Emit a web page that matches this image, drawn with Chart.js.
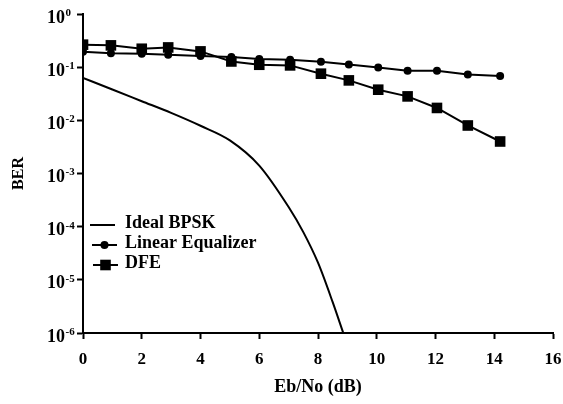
<!DOCTYPE html>
<html>
<head>
<meta charset="utf-8">
<script src="https://cdn.jsdelivr.net/npm/chart.js@4.4.1/dist/chart.umd.min.js"></script>
<style>
    body { margin: 0; background: #fff; }
    #wrap { width: 563px; height: 404px; position: relative; }
</style>
</head>
<body>
<div id="wrap"><canvas id="berChart"></canvas></div>
<script>
// Eb/No points for the simulated equalizers
const snrDb = [0, 0.95, 2, 2.9, 4, 5.05, 6, 7.05, 8.1, 9.05, 10.05, 11.05, 12.05, 13.1, 14.2];
const linearBer = [0.195, 0.182, 0.178, 0.172, 0.162, 0.155, 0.143, 0.138, 0.127, 0.112, 0.099, 0.086, 0.086, 0.073, 0.068];
const dfeBer = [0.265, 0.257, 0.222, 0.235, 0.198, 0.128, 0.111, 0.108, 0.0754, 0.0564, 0.0377, 0.0282, 0.0171, 0.0080, 0.0040];

// theoretical curve
const bpskSnr = [0, 1, 2, 3, 4, 5, 6, 7, 7.5, 8, 8.5, 8.86];
const bpskBer = [0.063, 0.038, 0.0229, 0.0138, 0.0079, 0.0042, 0.00141, 2.34e-4, 7.9e-5, 2.1e-5, 3.8e-6, 1e-6];

const xTicks = [0, 2, 4, 6, 8, 10, 12, 14, 16];
const yTicks = [1e-6, 1e-5, 1e-4, 1e-3, 1e-2, 1e-1, 1];

const seriesNames = ['Ideal BPSK', 'Linear Equalizer', 'DFE'];

const FONT = "'Liberation Serif', 'Times New Roman', serif";

function toPoints(xs, ys) {
    return xs.map((x, i) => ({ x: x, y: ys[i] }));
}

// y labels drawn as 10 with a raised exponent
const powerLabels = {
    id: 'powerLabels',
    afterDraw(chart) {
        const ctx = chart.ctx;
        const yScale = chart.scales.y;
        ctx.save();
        ctx.fillStyle = '#000';
        yScale.ticks.forEach(t => {
            const y = yScale.getPixelForValue(t.value);
            const exp = Math.round(Math.log10(t.value));
            ctx.font = 'bold 18px ' + FONT;
            ctx.textAlign = 'right';
            ctx.textBaseline = 'middle';
            ctx.fillText('10', 65, y + 4);
            ctx.font = 'bold 11px ' + FONT;
            ctx.textAlign = 'left';
            ctx.fillText(String(exp), 65.5, y - 1);
        });
        ctx.restore();
    }
};

// legend placed inside the plot, lower left
const innerLegend = {
    id: 'innerLegend',
    afterDraw(chart) {
        const ctx = chart.ctx;
        const area = chart.chartArea;
        const shifts = [7, 9, 10];
        ctx.save();
        chart.data.datasets.forEach((ds, i) => {
            const y = area.top + 211 + i * 20;
            const x0 = area.left + shifts[i];
            const x1 = x0 + 25;
            ctx.strokeStyle = '#000';
            ctx.lineWidth = 2;
            ctx.beginPath();
            ctx.moveTo(x0, y);
            ctx.lineTo(x1, y);
            ctx.stroke();
            if (ds.pointRadius > 0) {
                ctx.fillStyle = '#000';
                Chart.helpers.drawPoint(ctx, {
                    pointStyle: ds.pointStyle,
                    radius: ds.pointRadius,
                    rotation: 0,
                    borderWidth: 0
                }, (x0 + x1) / 2, y);
            }
            ctx.fillStyle = '#000';
            ctx.font = 'bold 18px ' + FONT;
            ctx.textAlign = 'left';
            ctx.textBaseline = 'middle';
            ctx.fillText(ds.label, area.left + 42, y - 2);
        });
        ctx.restore();
    }
};

const ctx = document.getElementById('berChart').getContext('2d');
new Chart(ctx, {
    type: 'line',
    data: {
        datasets: [{
            label: seriesNames[0],
            data: toPoints(bpskSnr, bpskBer),
            borderColor: '#000',
            borderWidth: 2,
            pointRadius: 0,
            cubicInterpolationMode: 'monotone',
            order: 2
        }, {
            label: seriesNames[1],
            data: toPoints(snrDb, linearBer),
            borderColor: '#000',
            backgroundColor: '#000',
            borderWidth: 2,
            pointStyle: 'circle',
            pointRadius: 4,
            pointBorderWidth: 0,
            order: 1
        }, {
            label: seriesNames[2],
            data: toPoints(snrDb, dfeBer),
            borderColor: '#000',
            backgroundColor: '#000',
            borderWidth: 2,
            pointStyle: 'rect',
            pointRadius: 7.5,
            pointBorderWidth: 0,
            order: 0
        }]
    },
    options: {
        responsive: true,
        maintainAspectRatio: false,
        animation: false,
        layout: { padding: { top: 14, right: 10, left: 0, bottom: 0 } },
        plugins: {
            legend: { display: false },
            tooltip: { enabled: false }
        },
        scales: {
            x: {
                type: 'linear',
                min: 0,
                max: 16,
                afterBuildTicks: scale => { scale.ticks = xTicks.map(v => ({ value: v })); },
                afterFit: scale => {
                    scale.height = 71;
                    scale.paddingLeft = 0;
                    scale.paddingRight = 0;
                },
                border: { display: true, color: '#000', width: 2 },
                grid: { drawOnChartArea: false, drawTicks: true, tickLength: 6, tickColor: '#000', tickWidth: 2 },
                ticks: { color: '#000', padding: 10, font: { family: FONT, size: 17, weight: 'bold' } },
                title: {
                    display: true,
                    text: 'Eb/No (dB)',
                    color: '#000',
                    font: { family: FONT, size: 18, weight: 'bold' },
                    padding: { top: 0, bottom: 6 }
                }
            },
            y: {
                type: 'logarithmic',
                min: 1e-6,
                max: 1,
                afterBuildTicks: scale => { scale.ticks = yTicks.map(v => ({ value: v })); },
                afterFit: scale => {
                    scale.width = 83;
                    scale.paddingTop = 0;
                    scale.paddingBottom = 0;
                },
                border: { display: true, color: '#000', width: 2 },
                grid: { drawOnChartArea: false, drawTicks: true, tickLength: 6, tickColor: '#000', tickWidth: 2 },
                ticks: { display: false },
                title: {
                    display: true,
                    text: 'BER',
                    color: '#000',
                    font: { family: FONT, size: 16, weight: 'bold' },
                    padding: { top: 9, bottom: 0 }
                }
            }
        }
    },
    plugins: [powerLabels, innerLegend]
});
</script>
</body>
</html>
